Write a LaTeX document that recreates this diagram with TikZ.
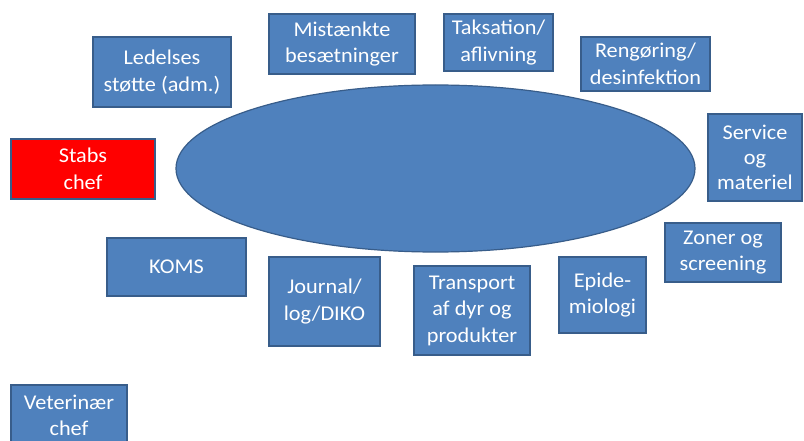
\documentclass[tikz,border=0pt]{standalone}
\usepackage{fontspec}
\setmainfont{Carlito}[FakeStretch=1.06]
\usetikzlibrary{shapes.geometric}
\definecolor{boxblue}{RGB}{79,129,189}
\definecolor{boxedge}{RGB}{56,93,138}
\definecolor{stabred}{RGB}{255,0,0}
\tikzset{
  box/.style={rectangle, draw=boxedge, line width=1.2pt, fill=boxblue, text=white,
    align=center, inner sep=0pt, font=\fontsize{21}{26.5}\selectfont},
  hub/.style={ellipse, draw=boxedge, line width=1.2pt, fill=boxblue, inner sep=0pt}
}
\begin{document}
\begin{tikzpicture}[x=1pt,y=-1pt]
\useasboundingbox (0,0) rectangle (804,441);
\clip (0,0) rectangle (804,441);
\fill[white] (0,0) rectangle (804,441);
\node[hub, minimum width=519pt, minimum height=167pt] (hub) at (435.5,168.5) {};
\node[box, minimum width=138pt, minimum height=70pt] (led) at (162,72) {Ledelses\\støtte (adm.)};
\node[box, minimum width=146pt, minimum height=60pt] (mis) at (342,44) {Mistænkte\\besætninger};
\node[box, minimum width=109pt, minimum height=57pt] (tak) at (498.5,42.5) {Taksation/\\aflivning};
\node[box, minimum width=129pt, minimum height=54pt] (ren) at (645.5,64) {Rengøring/\\desinfektion};
\node[box, minimum width=94pt, minimum height=87pt, font=\fontsize{21}{25}\selectfont] (ser) at (755,157.5) {Service\\og\\materiel};
\node[box, fill=stabred, minimum width=144pt, minimum height=60pt] (stab) at (83,169) {Stabs\\chef};
\node[box, minimum width=139pt, minimum height=58pt] (koms) at (176.5,267) {KOMS};
\node[box, minimum width=111pt, minimum height=89pt] (jour) at (324.5,301.5) {Journal/\\log/DIKO};
\node[box, minimum width=116pt, minimum height=89pt] (trans) at (472,310.5) {Transport\\af dyr og\\produkter};
\node[box, minimum width=87pt, minimum height=76pt] (epi) at (602.5,295) {Epide-\\miologi};
\node[box, minimum width=116pt, minimum height=59pt] (zon) at (723,252.5) {Zoner og\\screening};
\node[box, minimum width=116pt, minimum height=61pt] (vet) at (69,415.5) {Veterinær\\chef};
\end{tikzpicture}
\end{document}
